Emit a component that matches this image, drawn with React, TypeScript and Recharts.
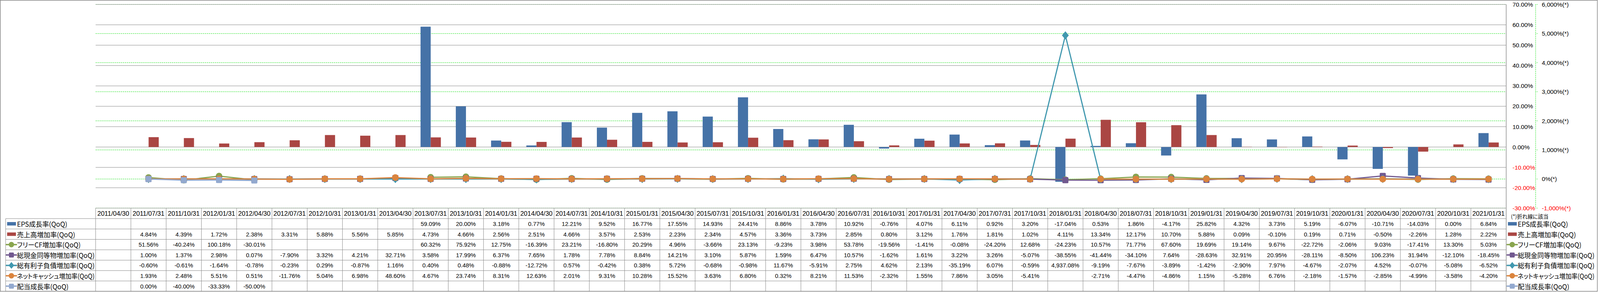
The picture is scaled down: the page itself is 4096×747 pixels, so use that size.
import React, { useLayoutEffect, useRef, useState } from 'react';
import { ComposedChart, Bar, Line, XAxis, YAxis, CartesianGrid } from 'recharts';

// categories (quarter ends)
const dates = [
  '2011/04/30', '2011/07/31', '2011/10/31', '2012/01/31', '2012/04/30', '2012/07/31', '2012/10/31', '2013/01/31',
  '2013/04/30', '2013/07/31', '2013/10/31', '2014/01/31', '2014/04/30', '2014/07/31', '2014/10/31', '2015/01/31',
  '2015/04/30', '2015/07/31', '2015/10/31', '2016/01/31', '2016/04/30', '2016/07/31', '2016/10/31', '2017/01/31',
  '2017/04/30', '2017/07/31', '2017/10/31', '2018/01/31', '2018/04/30', '2018/07/31', '2018/10/31', '2019/01/31',
  '2019/04/30', '2019/07/31', '2019/10/31', '2020/01/31', '2020/04/30', '2020/07/31', '2020/10/31', '2021/01/31',
];

// bars (left scale, %)
const epsGrowth = [
  null, null, null, null, null, null, null, null, null, 59.09, 20.0, 3.18, 0.77, 12.21, 9.52, 16.77, 17.55, 14.93,
  24.41, 8.86, 3.78, 10.92, -0.76, 4.07, 6.11, 0.92, 3.2, -17.04, 0.53, 1.86, -4.17, 25.82, 4.32, 3.73, 5.19, -6.07,
  -10.71, -14.03, 0.0, 6.84,
];
const salesGrowth = [
  null, 4.84, 4.39, 1.72, 2.38, 3.31, 5.88, 5.56, 5.85, 4.73, 4.66, 2.56, 2.51, 4.66, 3.57, 2.53, 2.23, 2.34, 4.57,
  3.36, 3.73, 2.85, 0.8, 3.12, 1.76, 1.81, 1.02, 4.11, 13.34, 12.17, 10.7, 5.88, 0.09, -0.1, 0.19, 0.71, -0.5, -2.26,
  1.28, 2.22,
];

// lines (right scale, %)
const fcfGrowth = [
  null, 51.56, -40.24, 100.18, -30.01, null, null, null, null, 60.32, 75.92, 12.75, -16.39, 23.21, -16.8, 20.29, 4.96,
  -3.66, 23.13, -9.23, 3.98, 53.78, -19.56, -1.41, -0.08, -24.2, 12.68, -24.23, 10.57, 71.77, 67.6, 19.69, 19.14,
  9.67, -22.72, -2.06, 9.03, -17.41, 13.3, 5.03,
];
const cashGrowth = [
  null, 1.0, 1.37, 2.98, 0.07, -7.9, 3.32, 4.21, 32.71, 3.58, 17.99, 6.37, 7.65, 1.78, 7.78, 8.84, 14.21, 3.1, 5.87,
  1.59, 6.47, 10.57, -1.62, 1.61, 3.22, 3.26, -5.07, -38.55, -41.44, -34.1, 7.64, -28.63, 32.91, 20.95, -28.11, -8.5,
  106.23, 31.94, -12.1, -18.45,
];
const debtGrowth = [
  null, -0.6, -0.61, -1.64, -0.78, -0.23, 0.29, -0.87, 1.16, 0.4, 0.48, -0.88, -12.72, 0.57, -0.42, 0.38, 5.72, -0.68,
  -0.98, 11.67, -5.91, 2.75, 4.62, 2.13, -35.19, 6.07, -0.59, 4937.08, -9.19, -7.67, -3.89, -1.42, -2.9, 7.97, -4.67,
  -2.07, 4.52, -0.07, -5.08, -6.52,
];
const netCashGrowth = [
  null, 1.93, 2.48, 5.51, 0.51, -11.76, 5.04, 6.98, 48.6, 4.67, 23.74, 8.31, 12.63, 2.01, 9.31, 10.28, 15.52, 3.63,
  6.8, 0.32, 8.21, 11.53, -2.32, 1.55, 7.86, 3.05, -5.41, null, -2.71, -4.47, -4.86, 1.15, -5.28, 6.76, -2.18, -1.57,
  -2.85, -4.99, -3.58, -4.2,
];
const dividendGrowth = [
  null, 0.0, -40.0, -33.33, -50.0, null, null, null, null, null, null, null, null, null, null, null, null, null, null,
  null, null, null, null, null, null, null, null, null, null, null, null, null, null, null, null, null, null, null,
  null, null,
];

const leftTicks = [-30, -20, -10, 0, 10, 20, 30, 40, 50, 60, 70];
const rightTicks = [-1000, 0, 1000, 2000, 3000, 4000, 5000, 6000];

// layout (px)
const W = 4090;
const H = 746;
const PLOT_LEFT = 244.8;
const PLOT_TOP = 11.4;
const PLOT_BOTTOM = 532.4;
const AXIS1_W = 75.4;
const AXIS2_W = 158.8;
const PLOT_RIGHT = W - AXIS1_W - AXIS2_W;
const COL_W = (PLOT_RIGHT - PLOT_LEFT) / dates.length;
const HEADER_BOTTOM = 559.2;
const ROW_H = 26.6;
const TABLE_BOTTOM = 745.3;
const LABEL_LEFT = 14.5;

const GRID = '#868686';
const GREEN = '#00DD00';
const FONT_NUM = '"Liberation Sans", Arial, sans-serif';
const FONT_JP = '"Noto Sans CJK JP", "Noto Sans", sans-serif';
const JP_STYLE = { fontFeatureSettings: '"palt"' };

type Kind = 'bar' | 'circle' | 'square' | 'diamond';

const series: { key: string; name: string; values: (number | null)[]; color: string; kind: Kind }[] = [
  { key: 'eps', name: 'EPS成長率(QoQ)', values: epsGrowth, color: '#4572A7', kind: 'bar' },
  { key: 'sales', name: '売上高増加率(QoQ)', values: salesGrowth, color: '#AA4643', kind: 'bar' },
  { key: 'fcf', name: 'フリーCF増加率(QoQ)', values: fcfGrowth, color: '#89A54E', kind: 'circle' },
  { key: 'cash', name: '総現金同等物増加率(QoQ)', values: cashGrowth, color: '#71588F', kind: 'square' },
  { key: 'debt', name: '総有利子負債増加率(QoQ)', values: debtGrowth, color: '#4198AF', kind: 'diamond' },
  { key: 'netCash', name: 'ネットキャッシュ増加率(QoQ)', values: netCashGrowth, color: '#DB843D', kind: 'circle' },
  { key: 'dividend', name: '配当成長率(QoQ)', values: dividendGrowth, color: '#93A9CF', kind: 'square' },
];

const chartData = dates.map((d, i) => {
  const row: Record<string, string | number | null> = { date: d };
  series.forEach((s) => {
    row[s.key] = s.values[i];
  });
  return row;
});

const rowCenter = (k: number) => HEADER_BOTTOM + ROW_H * (k + 0.5);

function fmtPct(v: number) {
  return v.toLocaleString('en-US', { minimumFractionDigits: 2, maximumFractionDigits: 2 }) + '%';
}

function Marker({ kind, cx, cy, color, k = 1 }: { kind: Kind; cx: number; cy: number; color: string; k?: number }) {
  if (kind === 'circle') return <circle cx={cx} cy={cy} r={8.5 * k} fill={color} />;
  if (kind === 'square') {
    const h = 7.8 * k;
    return <rect x={cx - h} y={cy - h} width={2 * h} height={2 * h} rx={2.5 * k} fill={color} />;
  }
  const w = 8.8 * k;
  const v = 10.5 * k;
  return <polygon points={`${cx},${cy - v} ${cx + w},${cy} ${cx},${cy + v} ${cx - w},${cy}`} fill={color} />;
}

const makeDot = (kind: Kind, color: string) => (p: any) => {
  if (p.cy == null || p.cx == null) return <g key={`d-${p.index}`} />;
  return <Marker key={`d-${p.index}`} kind={kind} color={color} cx={p.cx} cy={p.cy} />;
};

function LeftTick({ x, y, payload }: any) {
  const v = payload.value as number;
  return (
    <text x={x} y={y} dominantBaseline="central" textAnchor="start" fontSize={15.5} fontFamily={FONT_NUM}
      fill={v < 0 ? '#FF0000' : '#000'}>
      {v.toFixed(2)}%
    </text>
  );
}

function RightTick({ x, y, payload }: any) {
  const v = payload.value as number;
  return (
    <text x={x} y={y} dominantBaseline="central" textAnchor="start" fontSize={15.5} fontFamily={FONT_NUM}
      fill={v < 0 ? '#FF0000' : '#000'}>
      {v.toLocaleString('en-US')}%(*)
    </text>
  );
}

// one table column per category, hung off the category axis
function TableColumn({ x, payload }: any) {
  const i = dates.indexOf(payload.value);
  const left = x - COL_W / 2;
  return (
    <g>
      <line x1={left} x2={left} y1={PLOT_BOTTOM} y2={TABLE_BOTTOM} stroke={GRID} strokeWidth={1} />
      {i === dates.length - 1 && (
        <line x1={left + COL_W} x2={left + COL_W} y1={PLOT_BOTTOM} y2={TABLE_BOTTOM} stroke={GRID} strokeWidth={1} />
      )}
      <text x={x} y={(PLOT_BOTTOM + HEADER_BOTTOM) / 2} dominantBaseline="central" textAnchor="middle"
        fontSize={16.5} fontFamily={FONT_NUM} fill="#000">
        {payload.value}
      </text>
      {series.map((s, k) => {
        const v = s.values[i];
        if (v == null) return null;
        return (
          <text key={s.key} x={x} y={rowCenter(k)} dominantBaseline="central" textAnchor="middle"
            fontSize={15} fontFamily={FONT_NUM} fill="#000">
            {fmtPct(v)}
          </text>
        );
      })}
    </g>
  );
}

function LegendKey({ kind, color, x, y }: { kind: Kind; color: string; x: number; y: number }) {
  if (kind === 'bar') return <rect x={x + 2} y={y - 4.4} width={22.6} height={8.8} fill={color} />;
  return (
    <g>
      <line x1={x} x2={x + 26} y1={y} y2={y} stroke={color} strokeWidth={3.5} strokeLinecap="round" />
      <Marker kind={kind} color={color} cx={x + 13} cy={y} k={0.82} />
    </g>
  );
}

// series name; squeezed horizontally if it would run past maxW
function SeriesLabel({ x, y, name, maxW }: { x: number; y: number; name: string; maxW: number }) {
  const ref = useRef<SVGTextElement>(null);
  const [sx, setSx] = useState(1);
  useLayoutEffect(() => {
    if (!ref.current) return;
    const w = ref.current.getComputedTextLength();
    setSx(w > maxW ? maxW / w : 1);
  }, [name, maxW]);
  return (
    <text ref={ref} transform={`translate(${x},${y}) scale(${sx},1)`} dominantBaseline="central" fontSize={17}
      fontFamily={FONT_JP} fill="#000" style={JP_STYLE}>
      {name}
    </text>
  );
}

function TableFrame() {
  const hLines = [HEADER_BOTTOM];
  for (let k = 1; k <= series.length; k++) hLines.push(HEADER_BOTTOM + ROW_H * k);
  return (
    <svg width={W} height={H} style={{ position: 'absolute', left: 0, top: 0, pointerEvents: 'none' }}>
      <rect x={0.75} y={0.75} width={W - 1.5} height={H - 1.5} fill="none" stroke={GRID} strokeWidth={1.5} />
      {hLines.map((y, k) => (
        <line key={k} x1={LABEL_LEFT} x2={PLOT_RIGHT} y1={Math.min(y, TABLE_BOTTOM)} y2={Math.min(y, TABLE_BOTTOM)}
          stroke={GRID} strokeWidth={1} />
      ))}
      <line x1={LABEL_LEFT} x2={LABEL_LEFT} y1={HEADER_BOTTOM} y2={TABLE_BOTTOM} stroke={GRID} strokeWidth={1} />
      <line x1={PLOT_RIGHT} x2={PLOT_RIGHT} y1={PLOT_TOP} y2={TABLE_BOTTOM} stroke={GRID} strokeWidth={1} />
      {series.map((s, k) => (
        <g key={s.key}>
          <LegendKey kind={s.kind} color={s.color} x={16.2} y={rowCenter(k)} />
          <SeriesLabel x={43.5} y={rowCenter(k)} name={s.name} maxW={PLOT_LEFT - 46} />
          <LegendKey kind={s.kind} color={s.color} x={PLOT_RIGHT + 2.5} y={rowCenter(k)} />
          <SeriesLabel x={PLOT_RIGHT + 29.6} y={rowCenter(k)} name={s.name} maxW={W - PLOT_RIGHT - 29.6 - 8} />
        </g>
      ))}
      <text x={PLOT_RIGHT + 12.2} y={552.9} dominantBaseline="central" fontSize={13.5} fontFamily={FONT_JP} fill="#000"
        style={JP_STYLE}>
        (*)折れ線に該当
      </text>
    </svg>
  );
}

export default function App() {
  const lines = series.filter((s) => s.kind !== 'bar');
  return (
    <div style={{ position: 'absolute', left: 0, top: 0, width: W, height: H, background: '#fff' }}>
      <ComposedChart width={W} height={H} data={chartData} barCategoryGap="21.4%" barGap={0}
        margin={{ top: PLOT_TOP, right: 0, bottom: 0, left: PLOT_LEFT }}>
        <CartesianGrid yAxisId="right" vertical={false} stroke={GREEN} strokeDasharray="3 2" />
        <CartesianGrid yAxisId="left" vertical={false} stroke={GRID} />
        <XAxis dataKey="date" interval={0} height={H - PLOT_BOTTOM} tickLine={false} axisLine={false}
          tick={<TableColumn />} />
        <YAxis yAxisId="left" orientation="right" width={AXIS1_W} domain={[-30, 70]} ticks={leftTicks}
          allowDataOverflow tickSize={0} tickMargin={16.2} axisLine={{ stroke: GRID }} tick={<LeftTick />} />
        <YAxis yAxisId="right" orientation="right" width={AXIS2_W} domain={[-1000, 6000]} ticks={rightTicks}
          allowDataOverflow tickSize={5} tickMargin={10.8}
          axisLine={{ stroke: GREEN, strokeDasharray: '3 2' }}
          tickLine={{ stroke: GREEN, strokeDasharray: '2 2' }} tick={<RightTick />} />
        <Bar yAxisId="left" dataKey="eps" fill="#4572A7" isAnimationActive={false} />
        <Bar yAxisId="left" dataKey="sales" fill="#AA4643" isAnimationActive={false} />
        {lines.map((s) => (
          <Line key={s.key} yAxisId="right" type="linear" dataKey={s.key} stroke={s.color} strokeWidth={3}
            strokeLinejoin="round" dot={makeDot(s.kind, s.color)} activeDot={false} isAnimationActive={false} />
        ))}
      </ComposedChart>
      <TableFrame />
    </div>
  );
}
